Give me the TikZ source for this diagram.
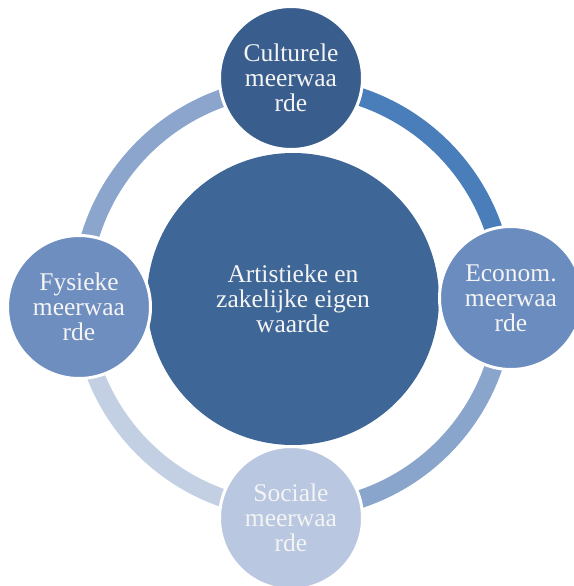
\documentclass[tikz,border=0pt]{standalone}
\usepackage{fontspec}
\setmainfont{Liberation Serif}
\definecolor{cCenter}{HTML}{3E6696}
\definecolor{cCult}{HTML}{395D8C}
\definecolor{cEcon}{HTML}{6A8CBF}
\definecolor{cSoc}{HTML}{B9C7E0}
\definecolor{cFys}{HTML}{6E8EC0}
\definecolor{aTR}{HTML}{4A7EBB}
\definecolor{aRB}{HTML}{8AA5CC}
\definecolor{aBL}{HTML}{C3CFE3}
\definecolor{aLT}{HTML}{8BA5CC}
\definecolor{txt}{HTML}{F4F4F4}
\tikzset{
  sat/.style={circle, draw=white, line width=3pt, minimum size=143pt, inner sep=0pt,
    text=txt, align=center, font=\fontsize{25.5}{25}\selectfont},
  hub/.style={circle, minimum size=292pt, inner sep=0pt,
    text=txt, align=center, font=\fontsize{25.5}{25}\selectfont},
  band/.style={line width=18pt}
}
\begin{document}
\begin{tikzpicture}[x=1pt,y=-1pt]
\useasboundingbox (0,0) rectangle (573,586);
\coordinate (ctr) at (293,298);
% ring segments
\draw[band, aRB] (ctr) ++(0:212) arc[start angle=0, end angle=90, radius=212];
\draw[band, aBL] (ctr) ++(90:212) arc[start angle=90, end angle=180, radius=212];
\draw[band, aLT] (ctr) ++(180:212) arc[start angle=180, end angle=270, radius=212];
\draw[band, aTR] (ctr) ++(270:212) arc[start angle=270, end angle=360, radius=212];
% hub
\node[hub, fill=cCenter] (hub) at (293,299) {Artistieke en\\zakelijke eigen\\waarde};
% satellites
\node[sat, fill=cCult] (cult) at (291,78) {Culturele\\meerwaa\\rde};
\node[sat, fill=cEcon] (econ) at (511,298) {Econom.\\meerwaa\\rde};
\node[sat, fill=cSoc] (soc) at (291,518) {Sociale\\meerwaa\\rde};
\node[sat, fill=cFys] (fys) at (79,307) {Fysieke\\meerwaa\\rde};
\end{tikzpicture}
\end{document}
